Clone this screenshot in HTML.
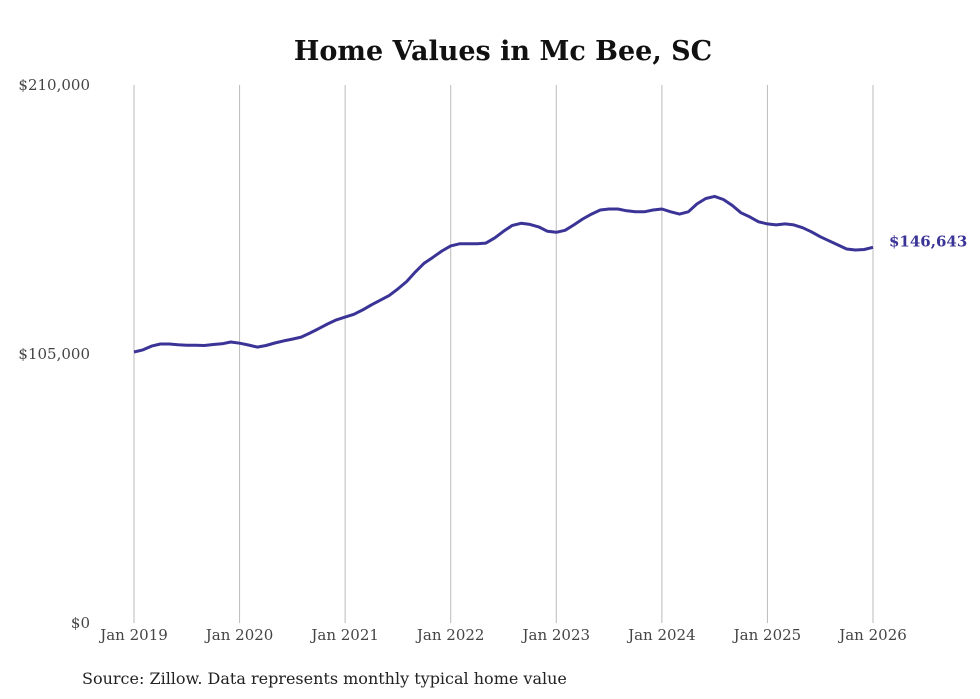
<!DOCTYPE html>
<html><head><meta charset="utf-8">
<style>
html,body{margin:0;padding:0;background:#fff;}
svg{display:block;font-family:"DejaVu Serif","Liberation Serif",serif;}
</style></head>
<body>
<svg id="chart" width="980" height="699" viewBox="0 0 980 699">
<text x="503" y="60" text-anchor="middle" font-size="27" font-weight="bold" fill="#111">Home Values in Mc Bee, SC</text>
<g id="grid"></g>
<g id="yaxis"></g>
<g id="xaxis"></g>
<path id="line" fill="none" stroke="#3b3497" stroke-width="3" stroke-linejoin="round"/>
<text id="endlabel" font-size="15" font-weight="bold" fill="#3b3497"></text>
<text x="82" y="684" font-size="16" fill="#222">Source: Zillow. Data represents monthly typical home value</text>
</svg>
<script>
const yTicks=[0,105000,210000];
const yTickLabels=["$0","$105,000","$210,000"];
const xTickYears=[2019,2020,2021,2022,2023,2024,2025,2026];
const values=[105.8,106.6,108.1,108.9,108.9,108.6,108.4,108.4,108.3,108.7,109.0,109.7,
109.2,108.5,107.7,108.3,109.3,110.1,110.8,111.6,113.2,114.9,116.7,118.3,
119.4,120.5,122.2,124.2,126.0,127.8,130.4,133.3,137.1,140.5,142.8,145.2,
147.2,148.0,148.0,148.0,148.3,150.3,152.9,155.2,156.0,155.6,154.6,152.9,
152.5,153.3,155.4,157.7,159.6,161.2,161.6,161.6,160.9,160.5,160.5,161.2,
161.6,160.5,159.6,160.5,163.6,165.7,166.5,165.3,163.0,160.1,158.5,156.6,
155.8,155.4,155.8,155.4,154.3,152.7,150.8,149.2,147.6,146.0,145.6,145.8,
146.643];
const lastLabel="$146,643";
const NS="http://www.w3.org/2000/svg";
const x0=134,x1=873,y0=623,y1=85;
function xScale(m){return x0+(x1-x0)*m/84;}
function yScale(v){return y0-(y0-y1)*v/210000;}
const grid=document.getElementById('grid'),xa=document.getElementById('xaxis'),ya=document.getElementById('yaxis');
xTickYears.forEach(function(yr){
  const x=xScale((yr-2019)*12);
  const l=document.createElementNS(NS,'line');
  l.setAttribute('x1',x);l.setAttribute('x2',x);l.setAttribute('y1',y1);l.setAttribute('y2',y0);
  l.setAttribute('stroke','#bbb');l.setAttribute('stroke-width','1');
  
  
  grid.appendChild(l);
  const t=document.createElementNS(NS,'text');
  t.setAttribute('x',x);t.setAttribute('y',640);t.setAttribute('text-anchor','middle');
  t.setAttribute('font-size','15');t.setAttribute('fill','#444');
  t.textContent='Jan '+yr;
  
  
  xa.appendChild(t);
});
yTicks.forEach(function(v,i){
  const t=document.createElementNS(NS,'text');
  t.setAttribute('x',90);t.setAttribute('y',yScale(v)+5);t.setAttribute('text-anchor','end');
  t.setAttribute('font-size','15');t.setAttribute('fill','#444');
  t.textContent=yTickLabels[i];
  
  
  ya.appendChild(t);
});
let d='';
values.forEach(function(v,i){d+=(i?'L':'M')+xScale(i).toFixed(1)+','+yScale(v*1000).toFixed(1);});
document.getElementById('line').setAttribute('d',d);
const el=document.getElementById('endlabel');
const lv=values[values.length-1]*1000;
el.setAttribute('x',xScale(values.length-1)+16);
el.setAttribute('y',yScale(lv)-1);
el.textContent=lastLabel;
</script>
</body></html>
